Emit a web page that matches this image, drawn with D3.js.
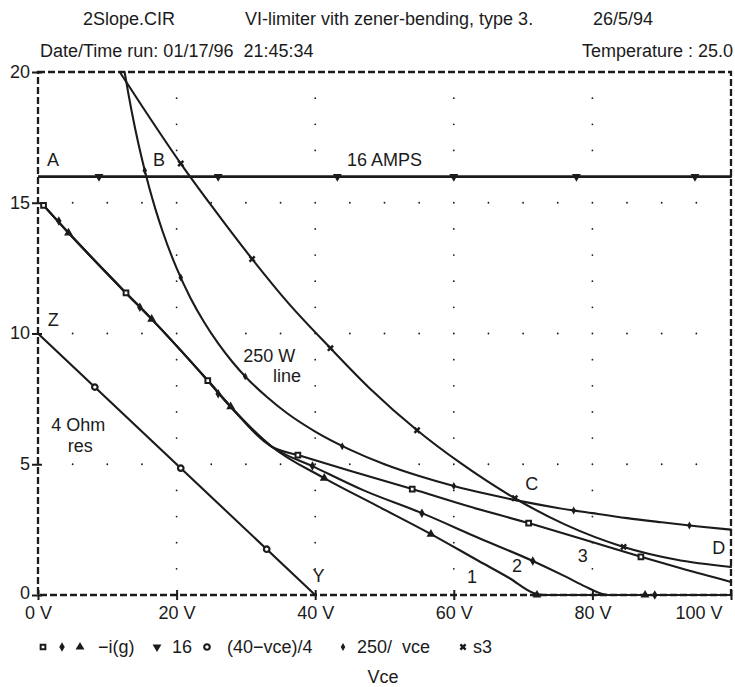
<!DOCTYPE html>
<html>
<head>
<meta charset="utf-8">
<script src="https://cdn.jsdelivr.net/npm/d3@7"></script>
<style>
  html, body { margin: 0; padding: 0; background: #fff; }
  svg { display: block; }
  text { font-family: "Liberation Sans", Arial, Helvetica, sans-serif; fill: #1b1b1b; white-space: pre; }
</style>
</head>
<body>
<svg id="chart" width="735" height="687"></svg>
<script>
// ---------------- data ----------------
const titleParts = ["2Slope.CIR", "VI-limiter vith zener-bending, type 3.", "26/5/94"];
const dateText = "Date/Time run: 01/17/96  21:45:34";
const tempText = "Temperature : 25.0";
const xTicks = [0, 20, 40, 60, 80, 100];
const xTickLabels = ["0 V", "20 V", "40 V", "60 V", "80 V", "100 V"];
const yTicks = [0, 5, 10, 15, 20];
const yTickLabels = ["0", "5", "10", "15", "20"];
const xAxisTitle = "Vce";

// "16" constant line
const amps16V = [0, 100];
const amps16I = [16, 16];
const amps16MarkV = [8.8, 26, 43.2, 60, 77.7, 94.8];

// (40-vce)/4  resistor line
const resV = [0, 40];
const resI = [10, 0];
const resMarkV = [8.2, 20.6, 33.0];
const resMarkI = [7.95, 4.85, 1.75];

// 250/vce  power hyperbola
const powV = [12.5, 13, 14, 15, 16, 17, 18, 20, 22, 24, 26, 28, 30, 33, 36, 40, 45, 50, 55, 60, 65, 70, 75, 80, 85, 90, 95, 100];
const powI = [20.0, 19.23, 17.86, 16.67, 15.63, 14.71, 13.89, 12.5, 11.36, 10.42, 9.62, 8.93, 8.33, 7.58, 6.94, 6.25, 5.56, 5.0, 4.55, 4.17, 3.85, 3.57, 3.33, 3.13, 2.94, 2.78, 2.63, 2.5];
const powMarkV = [15.4, 20.6, 29.9, 43.9, 60, 77.3, 94];
const powMarkI = [16.23, 12.14, 8.36, 5.69, 4.17, 3.23, 2.66];

// s3 curve
const s3V = [11.8, 15, 20.6, 25, 30.9, 36, 42.2, 48, 54.7, 61, 68.8, 76, 84.5, 92, 100];
const s3I = [20.0, 18.7, 16.5, 14.9, 12.85, 11.2, 9.44, 7.87, 6.3, 5.04, 3.7, 2.7, 1.84, 1.36, 1.07];
const s3MarkV = [20.6, 30.9, 42.2, 54.7, 68.8, 84.5];
const s3MarkI = [16.5, 12.85, 9.44, 6.3, 3.7, 1.84];

// -i(g) : three limiter curves (1 triangle, 2 diamond, 3 square)
const ig3V = [0.8, 4.4, 12.7, 16.4, 24.5, 27.8, 33.8, 37.5, 45, 54, 62, 70.8, 79, 87, 93, 100];
const ig3I = [14.9, 13.85, 11.55, 10.55, 8.2, 7.2, 5.66, 5.35, 4.75, 4.05, 3.4, 2.75, 2.1, 1.46, 1.0, 0.5];
const ig2V = [0.8, 4.4, 12.7, 16.4, 24.5, 27.8, 33.8, 39.6, 47, 55.4, 63.6, 71.4, 76, 79, 81, 82.5, 100];
const ig2I = [14.9, 13.85, 11.55, 10.55, 8.2, 7.2, 5.66, 4.93, 4.0, 3.13, 2.18, 1.3, 0.72, 0.32, 0.08, 0, 0];
const ig1V = [0.8, 4.4, 12.7, 16.4, 24.5, 27.8, 33.8, 41.3, 49, 56.7, 63.6, 68, 71.5, 73, 100];
const ig1I = [14.9, 13.85, 11.55, 10.55, 8.2, 7.2, 5.66, 4.47, 3.4, 2.33, 1.3, 0.65, 0.08, 0, 0];
const ig3MarkV = [0.8, 12.7, 24.5, 37.5, 54, 70.8, 87];
const ig3MarkI = [14.9, 11.55, 8.2, 5.35, 4.05, 2.75, 1.46];
const ig2MarkV = [3, 14.7, 26, 39.6, 55.4, 71.4, 89];
const ig2MarkI = [14.3, 11.0, 7.7, 4.93, 3.13, 1.3, 0];
const ig1MarkV = [4.4, 16.4, 27.8, 41.3, 56.7, 72, 87.6];
const ig1MarkI = [13.85, 10.55, 7.2, 4.47, 2.33, 0, 0];

// annotations (data coords)
const annotations = [
  {t: "A", v: 1.3, i: 16.4},
  {t: "B", v: 16.6, i: 16.4},
  {t: "16 AMPS", v: 44.6, i: 16.4},
  {t: "Z", v: 1.4, i: 10.3},
  {t: "250 W", v: 29.6, i: 8.91},
  {t: "line", v: 33.9, i: 8.15},
  {t: "4 Ohm", v: 1.9, i: 6.273},
  {t: "res", v: 4.3, i: 5.47},
  {t: "Y", v: 39.6, i: 0.5},
  {t: "1", v: 61.9, i: 0.46},
  {t: "2", v: 68.4, i: 0.88},
  {t: "3", v: 77.9, i: 1.26},
  {t: "C", v: 70.3, i: 4.02},
  {t: "D", v: 97.3, i: 1.57}
];

// legend
const legendItems = [
  {sym: ["square", "diamond", "triangle"], label: "\u2212i(g)"},
  {sym: ["down"], label: "16"},
  {sym: ["circle"], label: "(40\u2212vce)/4"},
  {sym: ["smalldiamond"], label: "250/  vce"},
  {sym: ["x"], label: "s3"}
];

// ---------------- drawing ----------------
(function () {
const svg = d3.select("#chart");
const ink = "#1b1b1b";
const pL = 38, pR = 731, pT = 72, pB = 595;
const x = d3.scaleLinear().domain([0, 100]).range([pL, pR]);
const y = d3.scaleLinear().domain([0, 20]).range([pB, pT]);

// header
svg.append("text").attr("x", 83).attr("y", 25).attr("font-size", 18).text(titleParts[0]);
svg.append("text").attr("x", 245).attr("y", 25).attr("font-size", 18).text(titleParts[1]);
svg.append("text").attr("x", 593).attr("y", 25).attr("font-size", 18).text(titleParts[2]);
svg.append("text").attr("x", 40).attr("y", 57).attr("font-size", 18).text(dateText);
svg.append("text").attr("x", 733).attr("y", 57).attr("font-size", 18).attr("text-anchor", "end").text(tempText);

// grid dots
const gridG = svg.append("g").attr("fill", ink);
const xMinor = d3.range(5, 100, 5);
const yMinor = d3.range(1, 20, 1);
[5, 10, 15].forEach(gv => {
  xMinor.forEach(xv => gridG.append("circle").attr("cx", x(xv)).attr("cy", y(gv)).attr("r", 0.9));
});
[20, 40, 60, 80].forEach(gxv => {
  yMinor.forEach(yv => { if (yv % 5 !== 0) gridG.append("circle").attr("cx", x(gxv)).attr("cy", y(yv)).attr("r", 0.9); });
});

// frame (dashed)
svg.append("rect").attr("x", pL).attr("y", pT).attr("width", pR - pL).attr("height", pB - pT)
  .attr("fill", "none").attr("stroke", ink).attr("stroke-width", 2.3).attr("stroke-dasharray", "7,3");

// axes via d3 axis generators
const xAxis = d3.axisBottom(x).tickValues(xTicks).tickSize(0).tickFormat((d, i) => xTickLabels[i]);
const gx = svg.append("g").attr("transform", `translate(0,${pB})`).call(xAxis);
gx.select(".domain").remove();
gx.selectAll("text").attr("font-size", 18).attr("fill", ink).attr("dy", 0).attr("y", 24)
  .attr("font-family", "Liberation Sans, Arial, sans-serif");
gx.selectAll(".tick").filter(d => d === 100).select("text").attr("text-anchor", "end").attr("x", -9);
gx.selectAll(".tick").append("line").attr("y1", -5).attr("y2", 5).attr("stroke", ink).attr("stroke-width", 2);

const yAxis = d3.axisLeft(y).tickValues(yTicks).tickSize(0).tickFormat((d, i) => yTickLabels[i]);
const gy = svg.append("g").attr("transform", `translate(${pL},0)`).call(yAxis);
gy.select(".domain").remove();
gy.selectAll("text").attr("font-size", 18).attr("fill", ink).attr("x", -8).attr("dy", "0.3em")
  .attr("font-family", "Liberation Sans, Arial, sans-serif");
gy.selectAll(".tick").filter(d => d === 0).select("text").attr("dy", "0.2em");
gy.selectAll(".tick").append("line").attr("x1", -6).attr("x2", 4).attr("stroke", ink).attr("stroke-width", 2);

// clip
svg.append("clipPath").attr("id", "plotclip").append("rect")
  .attr("x", pL).attr("y", pT - 1).attr("width", pR - pL + 1).attr("height", pB - pT + 3);
const plot = svg.append("g").attr("clip-path", "url(#plotclip)");

const lineGen = d3.line().x(d => x(d[0])).y(d => y(d[1])).curve(d3.curveMonotoneX);
const linGen = d3.line().x(d => x(d[0])).y(d => y(d[1]));
const zip = (a, b) => a.map((v, i) => [v, b[i]]);

function drawCurve(gen, pts, w) {
  plot.append("path").attr("d", gen(pts)).attr("fill", "none").attr("stroke", ink)
    .attr("stroke-width", w).attr("stroke-linejoin", "round").attr("stroke-linecap", "round");
}
drawCurve(linGen, zip(amps16V, amps16I), 2.6);
drawCurve(linGen, zip(resV, resI), 2.1);
drawCurve(lineGen, zip(powV, powI), 2.1);
drawCurve(lineGen, zip(s3V, s3I), 2.1);
drawCurve(lineGen, zip(ig3V, ig3I), 2.1);
drawCurve(lineGen, zip(ig2V, ig2I), 2.1);
drawCurve(lineGen, zip(ig1V, ig1I), 2.1);

// markers
function marker(g, kind, cx, cy) {
  const s = g.append("path").attr("transform", `translate(${cx},${cy})`);
  if (kind === "square") s.attr("d", d3.symbol(d3.symbolSquare, 22)()).attr("fill", "#fff").attr("stroke", ink).attr("stroke-width", 2);
  else if (kind === "diamond") s.attr("d", d3.symbol(d3.symbolDiamond, 26)()).attr("fill", ink);
  else if (kind === "triangle") s.attr("d", d3.symbol(d3.symbolTriangle, 34)()).attr("fill", ink);
  else if (kind === "down") s.attr("d", d3.symbol(d3.symbolTriangle, 34)()).attr("fill", ink)
      .attr("transform", `translate(${cx},${cy}) rotate(180)`);
  else if (kind === "circle") s.attr("d", d3.symbol(d3.symbolCircle, 24)()).attr("fill", "#fff").attr("stroke", ink).attr("stroke-width", 2.2);
  else if (kind === "smalldiamond") s.attr("d", d3.symbol(d3.symbolDiamond, 18)()).attr("fill", ink);
  else if (kind === "x") s.attr("d", d3.symbol(d3.symbolCross, 30)()).attr("fill", ink)
      .attr("transform", `translate(${cx},${cy}) rotate(45)`);
}
const mg = svg.append("g");
amps16MarkV.forEach(v => marker(mg, "down", x(v), y(16)));
resMarkV.forEach((v, i) => marker(mg, "circle", x(v), y(resMarkI[i])));
powMarkV.forEach((v, i) => marker(mg, "smalldiamond", x(v), y(powMarkI[i])));
s3MarkV.forEach((v, i) => marker(mg, "x", x(v), y(s3MarkI[i])));
ig3MarkV.forEach((v, i) => marker(mg, "square", x(v), y(ig3MarkI[i])));
ig2MarkV.forEach((v, i) => marker(mg, "diamond", x(v), y(ig2MarkI[i])));
ig1MarkV.forEach((v, i) => marker(mg, "triangle", x(v), y(ig1MarkI[i])));

// annotations
annotations.forEach(a => {
  svg.append("text").attr("x", x(a.v)).attr("y", y(a.i)).attr("font-size", 18).text(a.t);
});

// legend
const lg = svg.append("g");
const legendX = [[43, 62, 80], [157], [207], [343], [463]];
const labelX = [98, 172, 227, 357, 473];
legendItems.forEach((it, k) => {
  it.sym.forEach((s, j) => marker(lg, s, legendX[k][j], 647));
  lg.append("text").attr("x", labelX[k]).attr("y", 653).attr("font-size", 18).text(it.label);
});
svg.append("text").attr("x", 383).attr("y", 683).attr("font-size", 18).attr("text-anchor", "middle").text(xAxisTitle);
})();
</script>
</body>
</html>
